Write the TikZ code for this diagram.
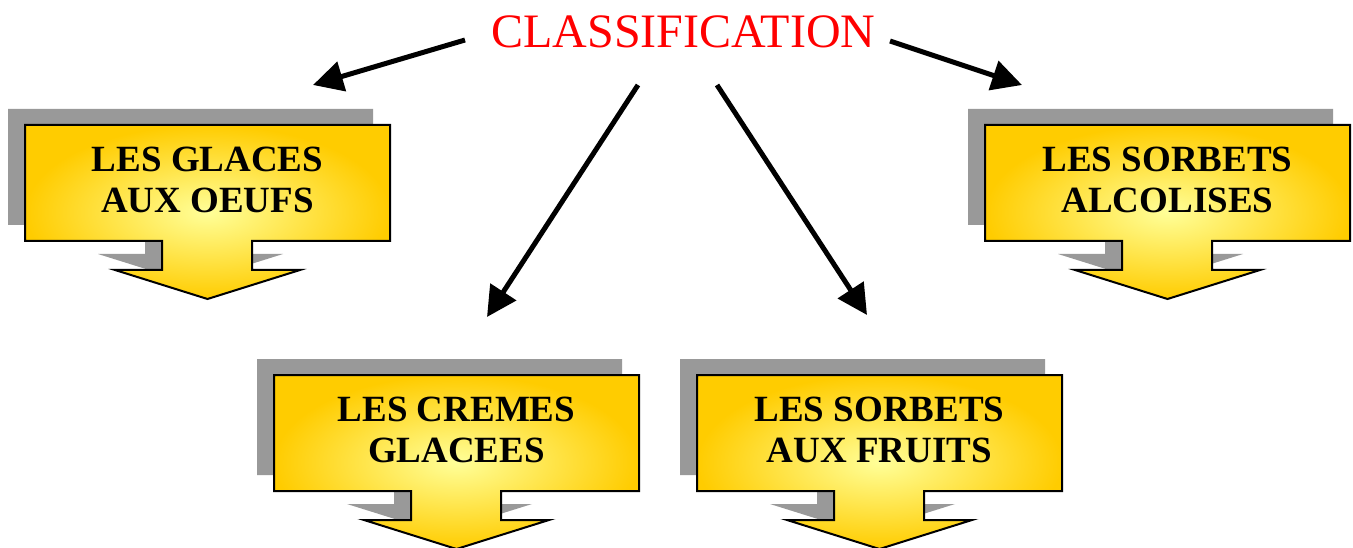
\documentclass[tikz,border=0pt]{standalone}
\usepackage{fontspec}
\setmainfont{Liberation Serif}
\usetikzlibrary{arrows.meta}

\definecolor{shadowgray}{RGB}{153,153,153}
\definecolor{glowin}{RGB}{255,255,153}
\definecolor{glowout}{RGB}{255,204,0}
\definecolor{titlered}{RGB}{255,0,0}

\newcommand{\calloutshape}{(0,0) -- (365,0) -- (365,116) -- (227,116) -- (227,145) -- (275,145) -- (182.5,174) -- (90,145) -- (137,145) -- (137,116) -- (0,116) -- cycle}
\newcommand{\callout}[4]{%
\fill[shadowgray,shift={(#1-17,#2-16)}] \calloutshape;
\shadedraw[line width=2pt,inner color=glowin,outer color=glowout,shift={(#1,#2)}] \calloutshape;
\node[font=\bfseries\fontsize{37}{41}\selectfont,align=center] (#3) at (#1+182.5,#2+55) {#4};
}

\begin{document}
\begin{tikzpicture}[x=1pt,y=-1pt]
\useasboundingbox (0,0) rectangle (1353,548);

\callout{25}{125}{glaces}{LES GLACES\\AUX OEUFS}
\callout{985}{125}{alcool}{LES SORBETS\\ALCOLISES}
\callout{274}{375}{cremes}{LES CREMES\\GLACEES}
\callout{697}{375}{fruits}{LES SORBETS\\AUX FRUITS}

\node [font=\fontsize{48}{52}\selectfont,text=titlered,anchor=base] (classif) at (683.5,48) {CLASSIFICATION};

\coordinate (from1) at (465,40);
\coordinate (to1) at (313,85);
\coordinate (from2) at (890,41);
\coordinate (to2) at (1022,85);
\coordinate (from3) at (638,85);
\coordinate (to3) at (487,317);
\coordinate (from4) at (717,85);
\coordinate (to4) at (867,315);

\draw[line width=5pt,-{Triangle[length=30pt,width=30pt]}] (from1) -- (to1);
\draw[line width=5pt,-{Triangle[length=30pt,width=30pt]}] (from2) -- (to2);
\draw[line width=5pt,-{Triangle[length=30pt,width=30pt]}] (from3) -- (to3);
\draw[line width=5pt,-{Triangle[length=30pt,width=30pt]}] (from4) -- (to4);
\end{tikzpicture}
\end{document}
